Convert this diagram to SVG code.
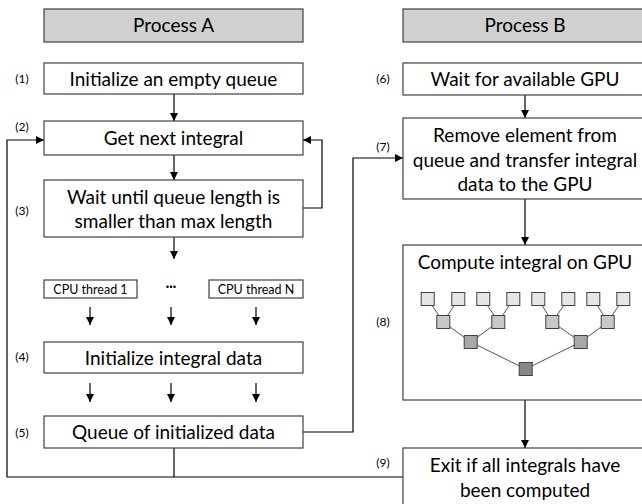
<svg xmlns="http://www.w3.org/2000/svg" width="642" height="504" viewBox="0 0 642 504">
  <defs>
    <marker id="arr" viewBox="0 0 8 8" refX="8" refY="4" markerWidth="8" markerHeight="8" markerUnits="userSpaceOnUse" orient="auto">
      <path d="M0,0 L8,4 L0,8 z" fill="#000"/>
    </marker>
  </defs>
  <style>
    .box { fill: #fff; stroke: #404040; stroke-width: 1.2; }
    .hdr { fill: #d0d0d0; stroke: #404040; stroke-width: 1.2; }
    .t { font-family: Lato, "Open Sans", sans-serif; font-size: 19px; fill: #000; text-anchor: middle; }
    .s { font-family: Lato, "Open Sans", sans-serif; font-size: 12.5px; fill: #000; text-anchor: middle; }
    .n { font-family: Lato, "Open Sans", sans-serif; font-size: 12px; fill: #000; text-anchor: middle; }
    .c { fill: none; stroke: #000; stroke-width: 1.2; }
    .a { fill: none; stroke: #000; stroke-width: 1.2; marker-end: url(#arr); }
    .tl { stroke: #555; stroke-width: 1; }
    .sq { stroke: #404040; stroke-width: 1; }
  </style>

  <!-- column headers -->
  <g id="headerA"><rect class="hdr" x="44" y="9" width="259" height="33"/><text class="t" x="173.5" y="32">Process A</text></g>
  <g id="headerB"><rect class="hdr" x="403" y="9" width="245" height="33"/><text class="t" x="525" y="32">Process B</text></g>

  <!-- connectors -->
  <g id="connectors">
    <line class="a" x1="174" y1="94" x2="174" y2="121"/>
    <line class="a" x1="174" y1="155" x2="174" y2="180"/>
    <path class="a" d="M303,208 H322 V140 H303"/>
    <line class="a" x1="174" y1="237" x2="174" y2="259"/>
    <line class="a" x1="90" y1="307" x2="90" y2="325"/>
    <line class="a" x1="171" y1="307" x2="171" y2="325"/>
    <line class="a" x1="256" y1="307" x2="256" y2="325"/>
    <line class="a" x1="90" y1="383" x2="90" y2="402"/>
    <line class="a" x1="171" y1="383" x2="171" y2="402"/>
    <line class="a" x1="256" y1="383" x2="256" y2="402"/>
    <path class="a" d="M303,432 H353 V158 H403"/>
    <path class="c" d="M174,448 V477"/>
    <path class="a" d="M403,477 H7 V140 H44"/>
    <line class="a" x1="525" y1="95" x2="525" y2="118"/>
    <line class="a" x1="525" y1="199" x2="525" y2="245"/>
    <line class="a" x1="525" y1="400" x2="525" y2="448"/>
  </g>

  <!-- Process A -->
  <g id="step1"><text class="n" x="22" y="83">(1)</text><rect class="box" x="44" y="63" width="259" height="31"/><text class="t" x="173.5" y="85.5">Initialize an empty queue</text></g>
  <g id="step2"><text class="n" x="22" y="131">(2)</text><rect class="box" x="44" y="121" width="259" height="34"/><text class="t" x="173.5" y="144.5">Get next integral</text></g>
  <g id="step3"><text class="n" x="22" y="215">(3)</text><rect class="box" x="44" y="180" width="259" height="57"/><text class="t" x="173.5" y="204">Wait until queue length is</text><text class="t" x="173.5" y="228">smaller than max length</text></g>
  <g id="thread1"><rect class="box" x="44" y="280" width="93" height="18"/><text class="s" x="90.5" y="293.5">CPU thread 1</text></g>
  <g id="threadDots"><text class="s" x="171" y="291" font-weight="bold">···</text></g>
  <g id="threadN"><rect class="box" x="209" y="280" width="94" height="18"/><text class="s" x="256" y="293.5">CPU thread N</text></g>
  <g id="step4"><text class="n" x="22" y="361">(4)</text><rect class="box" x="44" y="342" width="259" height="31"/><text class="t" x="173.5" y="364.5">Initialize integral data</text></g>
  <g id="step5"><text class="n" x="22" y="437">(5)</text><rect class="box" x="44" y="416" width="259" height="32"/><text class="t" x="173.5" y="438.5">Queue of initialized data</text></g>

  <!-- Process B -->
  <g id="step6"><text class="n" x="383" y="83">(6)</text><rect class="box" x="403" y="63" width="245" height="32"/><text class="t" x="525" y="85.5">Wait for available GPU</text></g>
  <g id="step7"><text class="n" x="383" y="151">(7)</text><rect class="box" x="403" y="118" width="245" height="81"/><text class="t" x="525" y="142">Remove element from</text><text class="t" x="525" y="167">queue and transfer integral</text><text class="t" x="525" y="191">data to the GPU</text></g>
  <g id="step8">
    <text class="n" x="383" y="326">(8)</text>
    <rect class="box" x="403" y="245" width="245" height="155"/>
    <text class="t" x="525" y="269">Compute integral on GPU</text>
    <!-- reduction tree -->
    <g class="tl">
      <line x1="427.7" y1="299" x2="443.3" y2="322"/><line x1="458.3" y1="299" x2="443.3" y2="322"/>
      <line x1="483.3" y1="299" x2="498.3" y2="322"/><line x1="513.3" y1="299" x2="498.3" y2="322"/>
      <line x1="538.3" y1="299" x2="552.3" y2="322"/><line x1="568.3" y1="299" x2="552.3" y2="322"/>
      <line x1="593.3" y1="299" x2="607.7" y2="322"/><line x1="623.3" y1="299" x2="607.7" y2="322"/>
      <line x1="443.3" y1="322" x2="470.7" y2="342"/><line x1="498.3" y1="322" x2="470.7" y2="342"/>
      <line x1="552.3" y1="322" x2="580.7" y2="342"/><line x1="607.7" y1="322" x2="580.7" y2="342"/>
      <line x1="470.7" y1="342" x2="525.7" y2="369"/><line x1="580.7" y1="342" x2="525.7" y2="369"/>
    </g>
    <g class="sq" fill="#e6e6e6">
      <rect x="421.2" y="292.5" width="13" height="13"/><rect x="451.8" y="292.5" width="13" height="13"/>
      <rect x="476.8" y="292.5" width="13" height="13"/><rect x="506.8" y="292.5" width="13" height="13"/>
      <rect x="531.8" y="292.5" width="13" height="13"/><rect x="561.8" y="292.5" width="13" height="13"/>
      <rect x="586.8" y="292.5" width="13" height="13"/><rect x="616.8" y="292.5" width="13" height="13"/>
    </g>
    <g class="sq" fill="#c8c8c8">
      <rect x="436.8" y="315.5" width="13" height="13"/><rect x="491.8" y="315.5" width="13" height="13"/>
      <rect x="545.8" y="315.5" width="13" height="13"/><rect x="601.2" y="315.5" width="13" height="13"/>
    </g>
    <g class="sq" fill="#a8a8a8">
      <rect x="464.2" y="335.5" width="13" height="13"/><rect x="574.2" y="335.5" width="13" height="13"/>
    </g>
    <g class="sq" fill="#888888">
      <rect x="519.2" y="362.5" width="13" height="13"/>
    </g>
  </g>
  <g id="step9"><text class="n" x="383" y="467">(9)</text><rect class="box" x="403" y="448" width="245" height="60"/><text class="t" x="525" y="472">Exit if all integrals have</text><text class="t" x="525" y="497">been computed</text></g>
</svg>
